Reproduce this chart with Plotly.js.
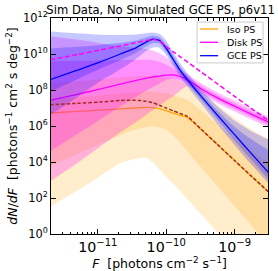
<!DOCTYPE html>
<html><head><meta charset="utf-8">
<script src="https://cdn.plot.ly/plotly-3.0.1.min.js"></script>
<style>html,body{margin:0;padding:0;background:#fff}</style>
</head><body>
<div id="chart" style="width:278px;height:271px"></div>
<script>
// log10 of flux F [photons cm^-2 s^-1] at which the curves were read
const logF = [-11.7, -11.3, -10.97, -10.67, -10.45, -10.3, -10.2, -10.1, -10.0, -9.9, -9.8, -9.69, -9.5, -9.25, -9.0, -8.75, -8.5];

// log10 dN/dF values
// Iso PS
const isoMed  = [6.72, 6.81, 6.88, 6.95, 7.0, 7.03, 7.02, 6.97, 6.85, 6.72, 6.6, 6.48, 5.85, 4.97, 4.08, 3.2, 2.33];
const isoTrue = [7.18, 7.26, 7.33, 7.42, 7.43, 7.38, 7.3, 7.15, 7.0, 6.85, 6.7, 6.53, 5.86, 4.97, 4.08, 3.2, 2.33];
const isoLo95 = [1.5, 2.42, 3.2, 3.94, 4.18, 4.25, 4.0, 3.6, 3.2, 2.8, 2.4, 1.95, 1.15, 0.1, -0.95, -2.0, -3.0];
const isoLo68 = [3.76, 4.45, 5.0, 5.5, 5.8, 5.93, 5.97, 5.92, 5.82, 5.5, 5.1, 4.6, 3.75, 2.65, 1.55, 0.45, -0.6];
const isoHi68 = [7.5, 7.6, 7.7, 7.8, 7.87, 7.9, 7.9, 7.88, 7.82, 7.72, 7.6, 7.45, 6.9, 6.1, 5.3, 4.6, 4.0];
const isoHi95 = [8.4, 8.5, 8.6, 8.7, 8.75, 8.8, 8.8, 8.78, 8.72, 8.62, 8.5, 8.35, 7.85, 7.15, 6.45, 5.8, 5.25];
// Disk PS
const diskMed  = [7.42, 7.76, 8.05, 8.33, 8.52, 8.65, 8.72, 8.77, 8.83, 8.84, 8.75, 8.57, 8.1, 7.56, 7.1, 6.65, 6.22];
const diskTrue = [9.68, 9.97, 10.22, 10.45, 10.62, 10.74, 10.8, 10.72, 10.41, 10.13, 9.86, 9.56, 9.03, 8.34, 7.65, 6.96, 6.3];
const diskLo95 = [2.92, 3.95, 4.85, 5.65, 6.2, 6.6, 6.87, 7.13, 7.4, 7.65, 7.95, 8.22, 7.8, 7.26, 6.8, 6.35, 5.92];
const diskLo68 = [4.59, 5.55, 6.35, 7.1, 7.6, 7.95, 8.15, 8.35, 8.55, 8.62, 8.55, 8.4, 7.94, 7.4, 6.94, 6.49, 6.06];
const diskHi68 = [9.6, 9.62, 9.64, 9.66, 9.68, 9.68, 9.65, 9.55, 9.4, 9.2, 8.98, 8.74, 8.26, 7.72, 7.26, 6.81, 6.38];
const diskHi95 = [11.0, 10.8, 10.6, 10.45, 10.35, 10.28, 10.2, 10.05, 9.8, 9.5, 9.15, 8.87, 8.4, 7.86, 7.4, 6.95, 6.52];
// GCE PS
const gceMed  = [8.57, 9.1, 9.55, 10.0, 10.33, 10.65, 10.82, 10.76, 10.32, 9.72, 9.12, 8.57, 7.7, 6.6, 5.52, 4.45, 3.4];
const gceLo95 = [6.6, 7.6, 8.47, 9.15, 9.7, 10.15, 10.35, 10.35, 9.95, 9.35, 8.75, 8.2, 7.3, 6.1, 4.95, 3.85, 2.8];
const gceLo68 = [7.9, 8.6, 9.18, 9.65, 10.05, 10.4, 10.6, 10.58, 10.12, 9.52, 8.93, 8.38, 7.5, 6.35, 5.2, 4.1, 3.02];
const gceHi68 = [10.3, 10.4, 10.5, 10.62, 10.75, 10.92, 11.02, 10.95, 10.55, 9.95, 9.33, 8.78, 7.9, 6.85, 5.95, 5.25, 4.65];
const gceHi95 = [11.25, 11.15, 11.07, 11.05, 11.08, 11.15, 11.2, 11.12, 10.75, 10.12, 9.5, 8.95, 8.1, 7.1, 6.3, 5.7, 5.25];

// legend names and colours
const seriesNames = ['Iso PS', 'Disk PS', 'GCE PS'];
const seriesColors = ['#FFA500', '#FF00FF', '#0000FF'];
// y tick labels
const yTickVals = [1, 1e2, 1e4, 1e6, 1e8, 1e10, 1e12];
const yTickText = ['10<sup>0</sup>', '10<sup>2</sup>', '10<sup>4</sup>', '10<sup>6</sup>', '10<sup>8</sup>', '10<sup>10</sup>', '10<sup>12</sup>'];

const F = logF.map(v => Math.pow(10, v));
const lin = a => a.map(v => Math.pow(10, v));
const SM = 0.6;
const traces = [];
function band(lo, hi, rgba) {
  traces.push({x: F, y: lin(lo), mode: 'lines', line: {width: 0, shape: 'spline', smoothing: SM}, hoverinfo: 'skip', showlegend: false});
  traces.push({x: F, y: lin(hi), mode: 'lines', line: {width: 0, shape: 'spline', smoothing: SM}, fill: 'tonexty', fillcolor: rgba, hoverinfo: 'skip', showlegend: false});
}
function med(y, color, name) {
  traces.push({x: F, y: lin(y), mode: 'lines', name: name, showlegend: false, line: {color: color, width: 1.3, shape: 'spline', smoothing: SM}});
}
function truth(y, color, dash, w) {
  traces.push({x: F, y: lin(y), mode: 'lines', showlegend: false, line: {color: color, width: w, dash: dash, shape: 'spline', smoothing: SM}});
}

band(isoLo95, isoHi95, 'rgba(255,165,0,0.2)');
band(isoLo68, isoHi68, 'rgba(255,165,0,0.2)');
med(isoMed, seriesColors[0], seriesNames[0]);
band(diskLo95, diskHi95, 'rgba(255,0,255,0.25)');
band(diskLo68, diskHi68, 'rgba(255,0,255,0.25)');
med(diskMed, seriesColors[1], seriesNames[1]);
band(gceLo95, gceHi95, 'rgba(0,0,255,0.22)');
band(gceLo68, gceHi68, 'rgba(0,0,255,0.22)');
med(gceMed, seriesColors[2], seriesNames[2]);
truth(isoTrue, '#A52A2A', '3.5px,2px', 1.5);
truth(diskTrue, '#FF00FF', '5px,2.5px', 1.5);

// legend box (matplotlib style) in paper coordinates
const shapes = [{type: 'rect', xref: 'paper', yref: 'paper', x0: 0.673, x1: 0.977, y0: 0.792, y1: 0.981,
                 fillcolor: 'rgba(255,255,255,0.85)', line: {color: '#cccccc', width: 1}, layer: 'above'}];
const annotations = [];
const rowY = [0.949, 0.8875, 0.8255];
seriesNames.forEach((n, i) => {
  shapes.push({type: 'line', xref: 'paper', yref: 'paper', x0: 0.687, x1: 0.770, y0: rowY[i], y1: rowY[i],
               line: {color: seriesColors[i], width: 1.3}, layer: 'above'});
  annotations.push({text: n, xref: 'paper', yref: 'paper', x: 0.803, y: rowY[i], xanchor: 'left', yanchor: 'middle',
                    showarrow: false, font: {size: 9.5, color: '#000'}});
});

const axisCommon = {
  showgrid: false, zeroline: false, showline: true, linecolor: '#000', linewidth: 1,
  mirror: 'allticks', ticks: 'inside', ticklen: 5, tickwidth: 1, tickcolor: '#000',
  tickfont: {size: 11.4}
};

const layout = {
  width: 278, height: 271,
  margin: {l: 51, r: 10, t: 18, b: 37, pad: 0},
  paper_bgcolor: '#fff', plot_bgcolor: '#fff',
  font: {family: 'DejaVu Sans', size: 11, color: '#000'},
  title: {text: 'Sim Data, No Simulated GCE PS, p6v11', font: {size: 11.6, color: '#000'},
          x: 0.505, xref: 'paper', xanchor: 'center', y: 0.965, yref: 'container', yanchor: 'middle'},
  xaxis: Object.assign({}, axisCommon, {
    type: 'log', range: [-11.684, -8.511], dtick: 1, exponentformat: 'power',
    minor: {ticks: 'inside', ticklen: 2.5, dtick: 'D1', tickcolor: '#000', showgrid: false},
    title: {text: '<i>F</i>  [photons cm<sup>−2</sup> s<sup>−1</sup>]', font: {size: 12.5}, standoff: 4}
  }),
  yaxis: Object.assign({}, axisCommon, {
    type: 'log', range: [0, 12], tickmode: 'array', tickvals: yTickVals, ticktext: yTickText,
    title: {text: '<i>dN</i>/<i>dF</i>  [photons<sup>−1</sup> cm<sup>2</sup> s deg<sup>−2</sup>]', font: {size: 12.5}, standoff: 2}
  }),
  showlegend: false,
  shapes: shapes,
  annotations: annotations
};

Plotly.newPlot('chart', traces, layout, {staticPlot: true, displayModeBar: false});
</script>
</body></html>
